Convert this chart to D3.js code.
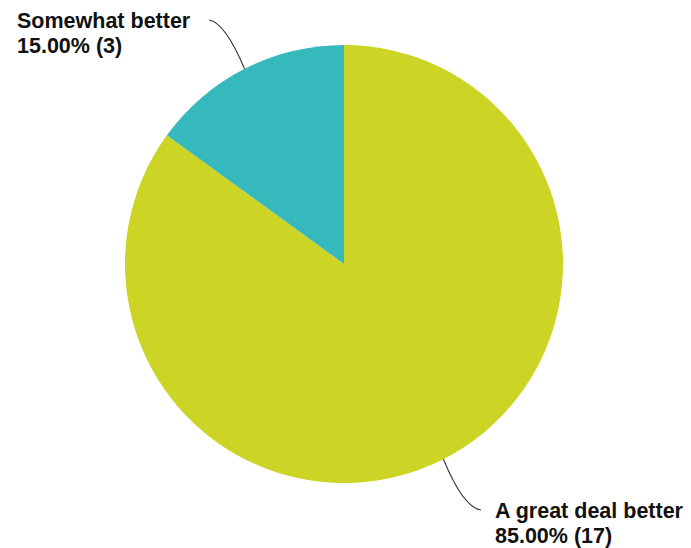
<!DOCTYPE html>
<html>
<head>
<meta charset="utf-8">
<script src="https://cdn.jsdelivr.net/npm/d3@7"></script>
<style>
  html, body { margin: 0; padding: 0; background: #fff; }
  svg { display: block; }
</style>
</head>
<body>
<svg id="chart" width="691" height="548"></svg>
<script>
// Survey responses
const categories = ["A great deal better", "Somewhat better"];
const counts = [17, 3];
const colors = ["#ccd425", "#35b9bd"];

const W = 691, H = 548;
const cx = 344, cy = 264, R = 219;

const svg = d3.select("#chart");
const total = d3.sum(counts);
const data = categories.map((c, i) => ({ name: c, count: counts[i], color: colors[i] }));

const pie = d3.pie().value(d => d.count).sort(null);
const arcs = pie(data);
const arc = d3.arc().innerRadius(0).outerRadius(R);

const g = svg.append("g").attr("transform", `translate(${cx},${cy})`);

g.selectAll("path.slice")
  .data(arcs)
  .join("path")
  .attr("class", "slice")
  .attr("d", arc)
  .attr("fill", d => d.data.color);

// Label placement: text anchor point and side for each slice
const labelPos = [
  { x: 495, y: 518, anchor: "start", endX: 481, endY: 510 },
  { x: 17, y: 28, anchor: "start", endX: 209, endY: 20 }
];

const fmt = d => `${(d.count / total * 100).toFixed(2)}% (${d.count})`;

arcs.forEach((a, i) => {
  const mid = (a.startAngle + a.endAngle) / 2;
  const sx = cx + R * Math.sin(mid), sy = cy - R * Math.cos(mid);
  const kx = cx + R * 1.2 * Math.sin(mid), ky = cy - R * 1.2 * Math.cos(mid);
  const lp = labelPos[i];
  const path = d3.path();
  path.moveTo(sx, sy);
  path.quadraticCurveTo(kx, ky + (lp.endY - ky) * 0.8, lp.endX, lp.endY);
  svg.append("path")
    .attr("d", path.toString())
    .attr("fill", "none")
    .attr("stroke", "#333")
    .attr("stroke-width", 1.2);

  const t = svg.append("text")
    .attr("x", lp.x)
    .attr("y", lp.y)
    .attr("text-anchor", lp.anchor)
    .attr("font-family", "Liberation Sans, Arial, sans-serif")
    .attr("font-weight", "bold")
    .attr("font-size", 21.5)
    .attr("fill", "#111");
  t.append("tspan").attr("x", lp.x).text(a.data.name);
  t.append("tspan").attr("x", lp.x).attr("dy", 24.5).text(fmt(a.data));
});
</script>
</body>
</html>
